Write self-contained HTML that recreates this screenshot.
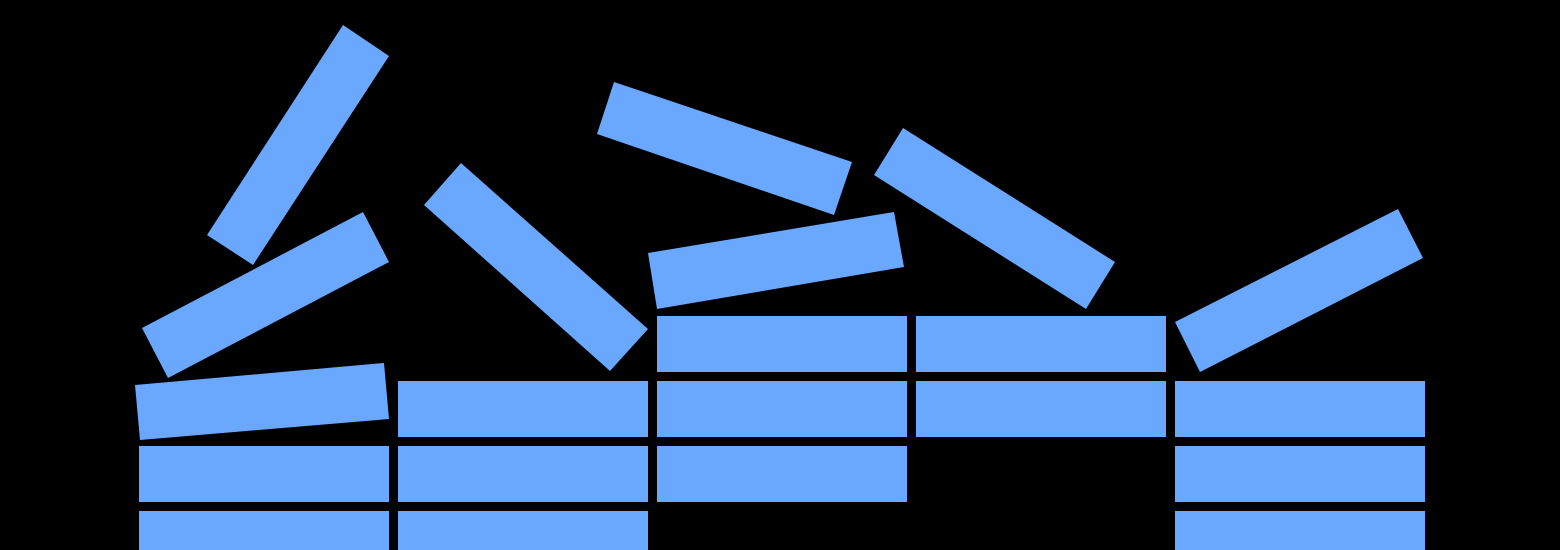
<!DOCTYPE html>
<html><head><meta charset="utf-8"><style>
html,body{margin:0;padding:0;background:#000;}
svg{display:block;}
</style></head><body>
<svg width="1560" height="550" viewBox="0 0 1560 550" xmlns="http://www.w3.org/2000/svg">
<rect width="1560" height="550" fill="#000"/>
<g fill="#6aa7ff">
<rect x="139" y="446" width="250" height="56"/>
<rect x="139" y="511" width="250" height="56"/>
<rect x="398" y="381" width="250" height="56"/>
<rect x="398" y="446" width="250" height="56"/>
<rect x="398" y="511" width="250" height="56"/>
<rect x="657" y="316" width="250" height="56"/>
<rect x="657" y="381" width="250" height="56"/>
<rect x="657" y="446" width="250" height="56"/>
<rect x="916" y="316" width="250" height="56"/>
<rect x="916" y="381" width="250" height="56"/>
<rect x="1175" y="381" width="250" height="56"/>
<rect x="1175" y="446" width="250" height="56"/>
<rect x="1175" y="511" width="250" height="56"/>
<polygon points="343,25 389,56 253,265 207,235"/>
<polygon points="363,212 389,262 168,378 142,328"/>
<polygon points="135,385 384,363 389,419 140,440"/>
<polygon points="461,163 648,329 610,371 424,205"/>
<polygon points="614,82 852,162 834,215 597,134"/>
<polygon points="648,253 894,212 904,267 657,309"/>
<polygon points="903,128 1115,262 1086,309 874,175"/>
<polygon points="1175,322 1398,209 1423,258 1200,372"/>
</g>
</svg>
</body></html>
